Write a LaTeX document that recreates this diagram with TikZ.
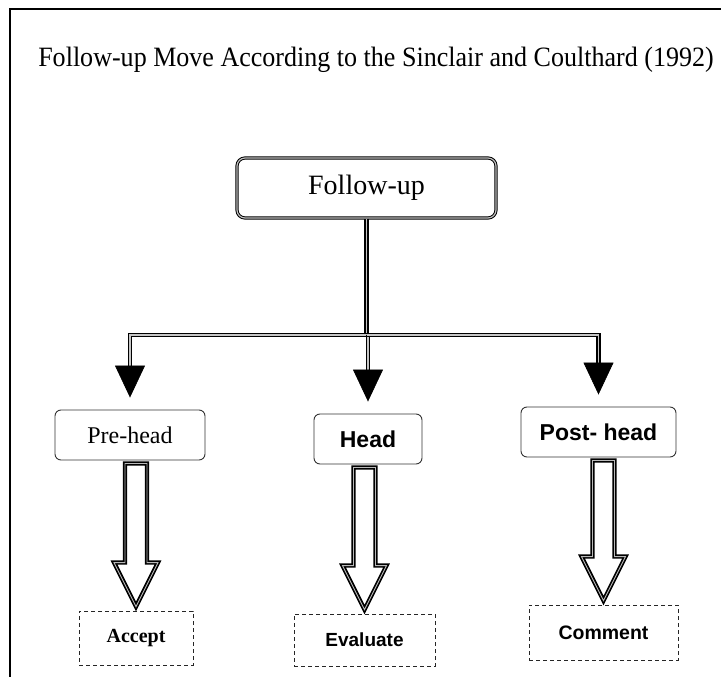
\documentclass[tikz,border=0pt]{standalone}
\usepackage{fontspec}
\setmainfont{Liberation Serif}
\setsansfont{Liberation Sans}
\usetikzlibrary{calc,arrows.meta,positioning}

\newcommand{\blockarrow}[2]{%
	\draw[hollow] let \p1=(#1.south), \p2=(#2.north) in
		(\x2-11pt,\y1-3pt) -- (\x2-11pt,\y2+48pt) -- (\x2-22pt,\y2+48pt)
		-- (\x2,\y2+4pt) -- (\x2+22pt,\y2+48pt) -- (\x2+11pt,\y2+48pt)
		-- (\x2+11pt,\y1-3pt) -- cycle;
}

\begin{document}
\begin{tikzpicture}[x=1pt,y=-1pt,
		trunk/.style = {draw=black, double=gray!45, line width=1.3pt, double distance=1.6pt},
		tip/.style = {-{Triangle[length=32pt,width=30pt]}, line width=0.6pt},
		hollow/.style = {draw=black, double=gray!55, line width=1.7pt,
			double distance=0.9pt, fill=white, line join=miter},
		topbox/.style = {draw=black, double=gray!50, double distance=1.2pt, line width=1pt,
			rounded corners=8pt, minimum width=259pt, minimum height=60pt, inner sep=0pt},
		midbox/.style = {draw=black!80, line width=0.9pt, rounded corners=6pt,
			minimum height=50pt, inner sep=0pt},
		leaf/.style = {draw=black!85, line width=0.9pt, dash pattern=on 4pt off 3pt,
			inner sep=0pt},
	]
	\useasboundingbox (0,0) rectangle (721,677);
	\draw[line width=2pt] (10,677) -- (10,9) -- (721,9);
	\node[anchor=base, font=\fontsize{28}{32}\selectfont] (title) at (376,67)
		{\scalebox{0.93}[1]{Follow-up Move According to the Sinclair and Coulthard (1992)}};

	\node[topbox, font=\fontsize{28}{32}\selectfont] (follow) at (366.5,188) {Follow-up};
	\node[midbox, minimum width=150pt, font=\fontsize{24}{28}\selectfont] (pre) at (130,435) {Pre-head};
	\node[midbox, minimum width=108pt, font=\sffamily\bfseries\fontsize{23}{27}\selectfont] (head) at (368,439) {Head};
	\node[midbox, minimum width=155pt, font=\sffamily\bfseries\fontsize{23}{27}\selectfont] (post) at (598.5,432) {Post- head};

	\node[leaf, minimum width=114pt, minimum height=54pt, font=\bfseries\fontsize{20}{24}\selectfont] (accept) at (136,638) {Accept};
	\node[leaf, minimum width=141pt, minimum height=52pt, font=\sffamily\bfseries\fontsize{19}{23}\selectfont] (evaluate) at (364.5,640) {Evaluate};
	\node[leaf, minimum width=149pt, minimum height=55pt, font=\sffamily\bfseries\fontsize{19.5}{23}\selectfont] (comment) at (603.5,632.5) {Comment};

	\coordinate (split) at (follow.south |- 0,335);
	\draw[trunk] (follow.south) -- (split);
	\foreach \b/\c in {pre/accept, head/evaluate, post/comment}
	{
		\draw[trunk] (split) -| ([yshift=44pt]\b.north);
		\draw[tip] ([yshift=44pt]\b.north) -- ([yshift=12pt]\b.north);
		\blockarrow{\b}{\c}
	};
\end{tikzpicture}
\end{document}
